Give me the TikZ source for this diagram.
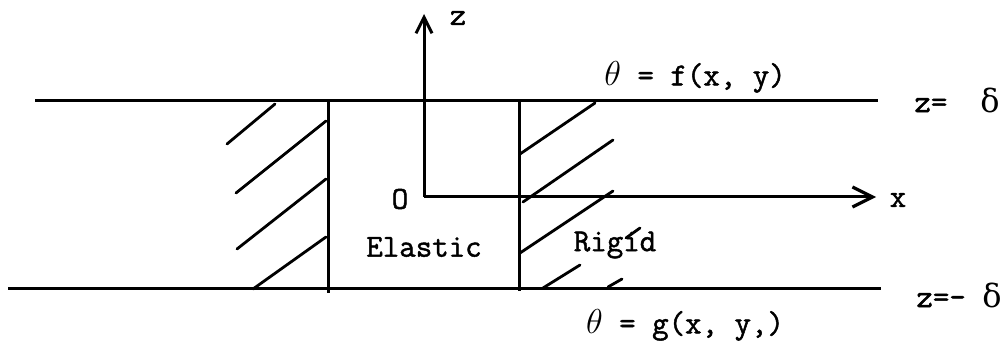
\documentclass[tikz,border=0pt]{standalone}
\usepackage{fontspec}
\setmainfont{Latin Modern Mono}[FakeBold=1.5]
\newfontfamily\grk{DejaVu Serif}
\usetikzlibrary{arrows.meta}
\begin{document}
\begin{tikzpicture}[x=0.5pt,y=-0.5pt,
  thick line/.style={line width=1.5pt},
  hatch/.style={line width=1.4pt, line cap=round},
  axis/.style={line width=1.5pt},
  lbl/.style={font=\fontsize{16pt}{18pt}\selectfont, inner sep=0pt}]
\useasboundingbox (0,0) rectangle (1001,341);
% plates
\draw[thick line] (35,101) -- (878,101);
\draw[thick line] (8,289) -- (881,289);
\draw[thick line] (328,101) -- (328,293);
\draw[thick line] (519,101) -- (519,291);
% axes
\coordinate (O) at (424,197);
\coordinate (ztip) at (424,14);
\coordinate (xtip) at (876,197);
\draw[axis, -{Straight Barb[length=8pt,width=8pt,line width=1.5pt]}] (O) -- (ztip);
\draw[axis, -{Straight Barb[length=10pt,width=10pt,line width=1.6pt]}] (O) -- (xtip);
% hatching left
\draw[hatch] (227,144) -- (275,104);
\draw[hatch] (236,193) -- (326,121);
\draw[hatch] (237,249) -- (326,179);
\draw[hatch] (253,289) -- (326,237);
% hatching right
\draw[hatch] (520,154) -- (595,103);
\draw[hatch] (523,202) -- (613,140);
\draw[hatch] (520,253) -- (613,191);
\draw[hatch] (626,238) -- (640,228);
\draw[hatch] (543,288) -- (580,265);
\draw[hatch] (608,287) -- (622,279);
% labels
\node[lbl] (zl) at (458,18) {z};
\node[lbl] (xl) at (898,200) {x};
\node[lbl] (ol) at (400,199) {O};
\node[lbl] (el) at (424,247) {Elastic};
\node[lbl] (rl) at (615,245) {Rigid};
\node[lbl] (fl) at (695,77) {$\theta$ = f(x, y)};
\node[lbl] (gl) at (685,325) {$\theta$ = g(x, y,)};
\node[lbl] (zt) at (957,100) {z=\ \ {\grk δ}};
\node[lbl] (zb) at (959,295) {z=- {\grk δ}};
\end{tikzpicture}
\end{document}
